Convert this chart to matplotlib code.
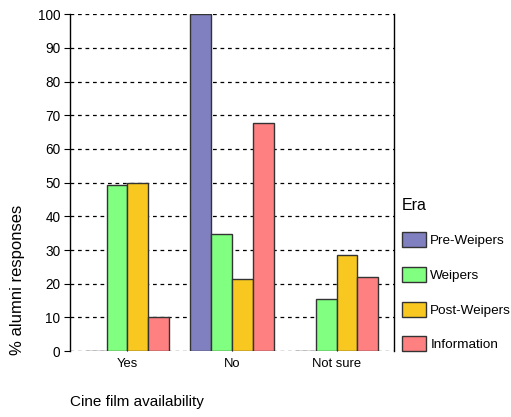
import matplotlib.pyplot as plt
import numpy as np

plt.rcParams['font.family'] = ['Liberation Sans', 'DejaVu Sans']

categories = ['Yes', 'No', 'Not sure']
eras = ['Pre-Weipers', 'Weipers', 'Post-Weipers', 'Information']
pre_weipers = [0, 100, 0]
weipers = [49.4, 34.8, 15.6]
post_weipers = [50, 21.3, 28.5]
information = [10, 67.8, 22.0]
colors = ['#8080c0', '#80ff80', '#f8c820', '#ff8080']

series = [pre_weipers, weipers, post_weipers, information]

fig = plt.figure(figsize=(5.11, 4.17), dpi=100)
ax = fig.add_axes([0.137, 0.158, 0.634, 0.808])

x = np.arange(len(categories))
w = 0.2
for i, vals in enumerate(series):
    ax.bar(x + (i - 1.5) * w, vals, w, color=colors[i], edgecolor='#333333',
           linewidth=1.0, label=eras[i], zorder=3)

ax.set_xlim(-0.55, 2.55)
ax.set_ylim(0, 100)
ax.set_yticks(range(0, 101, 10))
ax.set_xticks(x)
ax.set_xticklabels(categories)
for yv in range(0, 101, 10):
    ax.axhline(yv, color='black', linestyle=(0, (3, 3)), linewidth=0.9, zorder=1)
ax.spines['top'].set_visible(False)
ax.spines['bottom'].set_visible(False)
ax.spines['left'].set_linewidth(1.0)
ax.spines['right'].set_linewidth(1.0)
ax.tick_params(axis='y', length=4, labelsize=9.8, pad=3)
ax.tick_params(axis='x', length=3, labelsize=9.4, direction='in', pad=5)

fig.text(0.035, 0.33, '% alumni responses', rotation=90, ha='center', va='center', fontsize=12)
fig.text(0.137, 0.035, 'Cine film availability', ha='left', va='center', fontsize=11)

leg = fig.legend(loc='upper left', bbox_to_anchor=(0.763, 0.555), frameon=False,
                 title='Era', fontsize=9.7, handlelength=1.8, handleheight=1.35,
                 labelspacing=1.45, handletextpad=0.3, alignment='left')
leg.get_title().set_fontsize(11.5)

fig.savefig('out.png', dpi=100)
